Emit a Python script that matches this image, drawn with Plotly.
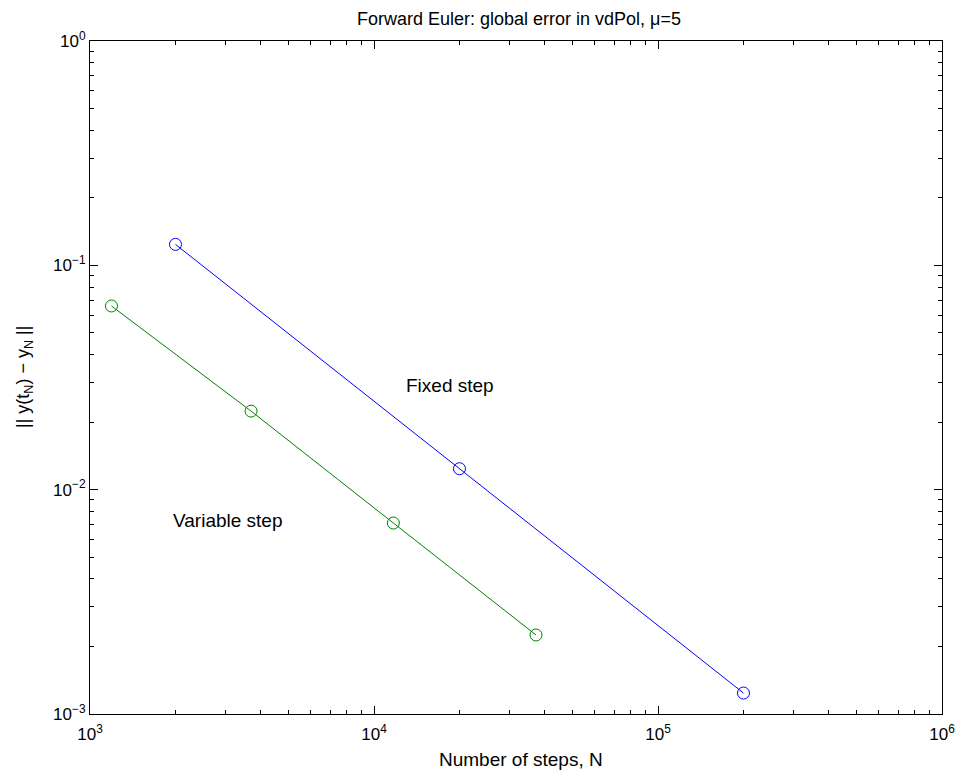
import math
import plotly.graph_objects as go

fixed_N = [2000, 20000, 200000]
fixed_err = [0.124, 0.0124, 0.00124]
var_N = [1190, 3690, 11700, 37200]
var_err = [0.0659, 0.0224, 0.0071, 0.00225]

x_tickvals = [1e3, 1e4, 1e5, 1e6]
x_ticktext = ["10<sup>3</sup>", "10<sup>4</sup>", "10<sup>5</sup>", "10<sup>6</sup>"]
y_tickvals = [1e-3, 1e-2, 1e-1, 1e0]
y_ticktext = ["10<sup>−3</sup>", "10<sup>−2</sup>", "10<sup>−1</sup>", "10<sup>0</sup>"]

title_text = "Forward Euler: global error in vdPol, μ=5"
x_title = "Number of steps, N"
y_title = "|| y(t<sub>N</sub>) − y<sub>N</sub> ||"
labels = [("Fixed step", 12760, 0.029), ("Variable step", 1923, 0.00732)]

FS_TICK = 17
FS_TEXT = 19

x_minor = [m * d for d in x_tickvals[:-1] for m in range(2, 10)]
y_minor = [m * d for d in y_tickvals[:-1] for m in range(2, 10)]

fig = go.Figure()
fig.add_trace(go.Scatter(x=fixed_N, y=fixed_err, mode="lines+markers",
                         line=dict(color="rgb(0,0,255)", width=1),
                         marker=dict(symbol="circle-open", size=12, color="rgb(0,0,255)", line=dict(width=1)),
                         showlegend=False))
fig.add_trace(go.Scatter(x=var_N, y=var_err, mode="lines+markers",
                         line=dict(color="rgb(0,128,0)", width=1),
                         marker=dict(symbol="circle-open", size=12, color="rgb(0,128,0)", line=dict(width=1)),
                         showlegend=False))
# invisible trace to activate the mirrored tick axes
fig.add_trace(go.Scatter(x=[x_tickvals[0]], y=[y_tickvals[0]], xaxis="x2", yaxis="y2", mode="markers",
                         marker=dict(size=1, opacity=0), hoverinfo="skip", showlegend=False))

for t, x, y in labels:
    fig.add_annotation(x=math.log10(x), y=math.log10(y), xref="x", yref="y", text=t, showarrow=False,
                       xanchor="left", yanchor="middle", font=dict(size=FS_TEXT, color="black"))

fig.add_annotation(x=0.5035, y=1.0327, xref="paper", yref="paper", text=title_text, showarrow=False,
                   xanchor="center", yanchor="middle", font=dict(size=18, color="black"))
fig.add_annotation(x=0.5059, y=-0.0669, xref="paper", yref="paper", text=x_title, showarrow=False,
                   xanchor="center", yanchor="middle", font=dict(size=FS_TEXT, color="black"))
fig.add_annotation(x=-0.0775, y=0.5007, xref="paper", yref="paper", text=y_title, showarrow=False,
                   textangle=-90, xanchor="center", yanchor="middle", font=dict(size=18, color="black"))

axis_common = dict(type="log", showgrid=False, zeroline=False, automargin=False,
                   ticks="inside", ticklen=8, tickcolor="black", tickwidth=1,
                   tickfont=dict(size=FS_TICK, color="black"))
minor_common = dict(ticks="inside", ticklen=4, tickcolor="black", tickwidth=1, showgrid=False)

fig.update_layout(
    width=958, height=774,
    margin=dict(l=90, r=16, t=41, b=60),
    paper_bgcolor="white", plot_bgcolor="white",
    font=dict(family="Liberation Sans, Arial, sans-serif", size=FS_TICK, color="black"),
    xaxis=dict(axis_common, range=[3, 6], tickvals=x_tickvals, ticktext=x_ticktext,
               ticklabelstandoff=5, minor=dict(minor_common, tickvals=x_minor),
               showline=True, linecolor="black", linewidth=1, mirror=True),
    yaxis=dict(axis_common, range=[-3, 0], tickvals=y_tickvals, ticktext=y_ticktext,
               minor=dict(minor_common, tickvals=y_minor),
               showline=True, linecolor="black", linewidth=1, mirror=True),
    xaxis2=dict(axis_common, range=[3, 6], tickvals=x_tickvals, overlaying="x", side="top",
                minor=dict(minor_common, tickvals=x_minor),
                showticklabels=False, showline=False, anchor="y2"),
    yaxis2=dict(axis_common, range=[-3, 0], tickvals=y_tickvals, overlaying="y", side="right",
                minor=dict(minor_common, tickvals=y_minor),
                showticklabels=False, showline=False, anchor="x2"),
)
fig.write_html("out.html", config={"displayModeBar": False},
               post_script="document.body.style.margin='0px';")
